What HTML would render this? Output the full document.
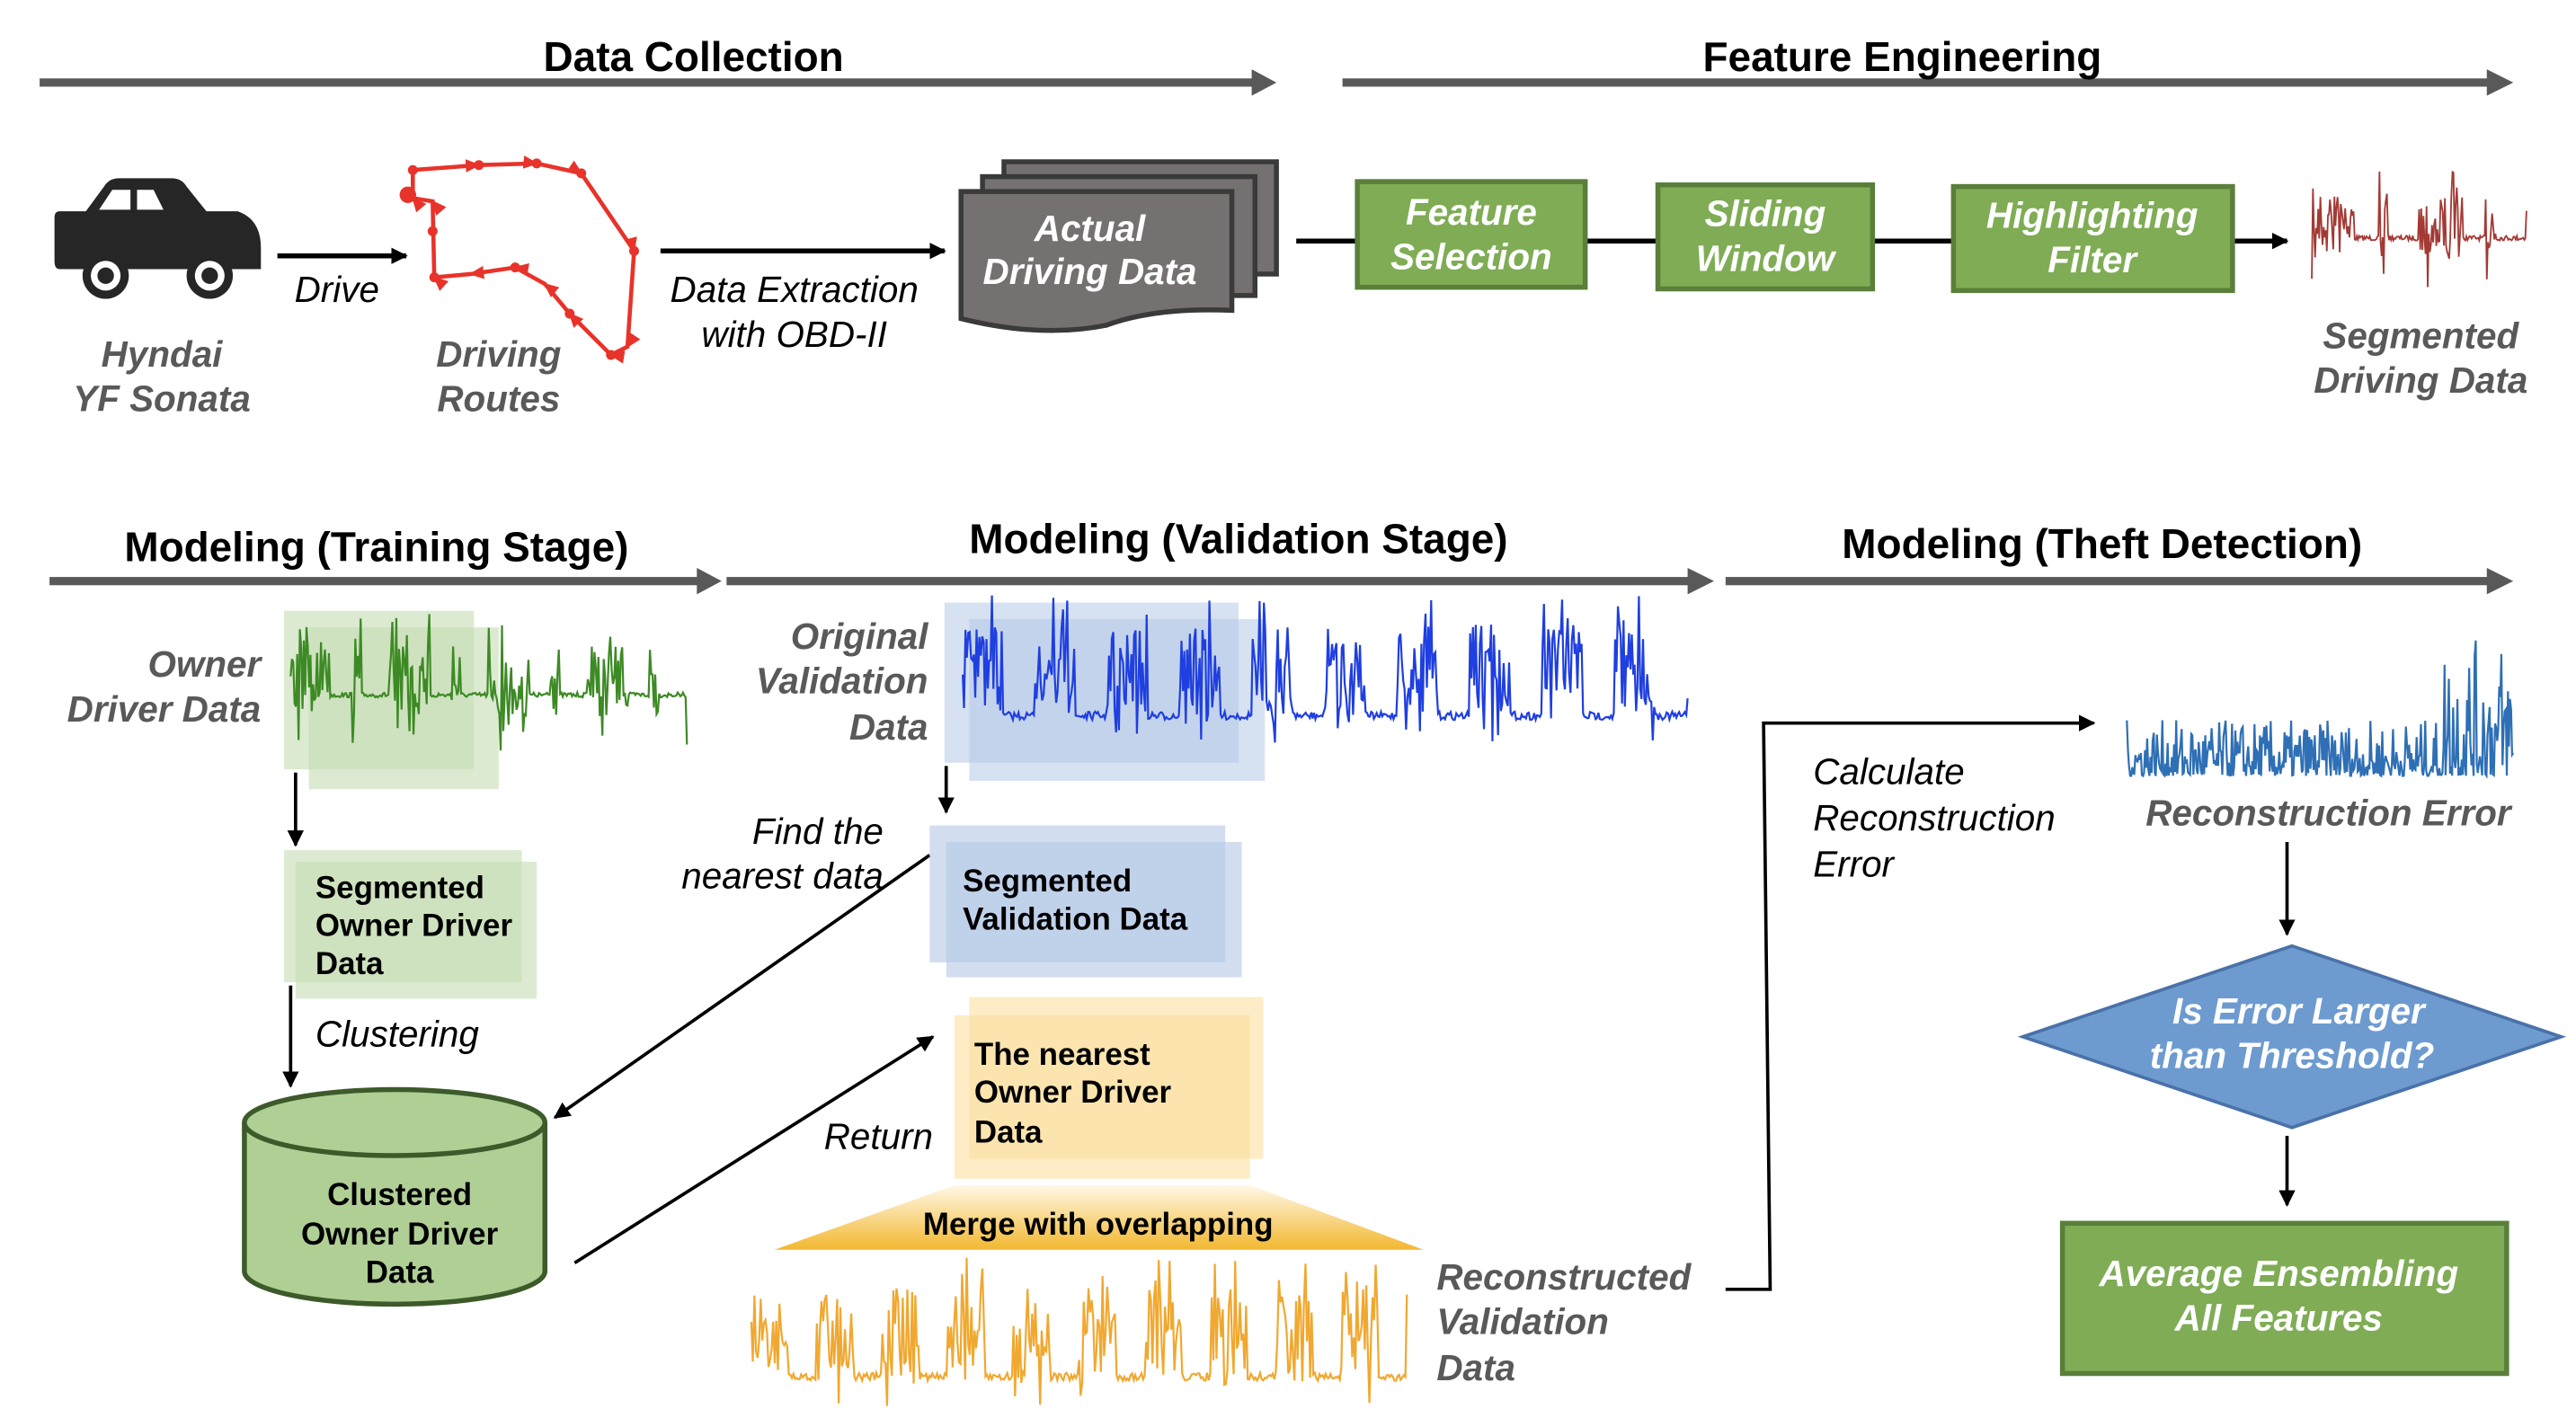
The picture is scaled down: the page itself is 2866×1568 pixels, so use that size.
<!DOCTYPE html>
<html><head><meta charset="utf-8"><style>
html,body{margin:0;padding:0;background:#fff;}
svg{display:block;font-family:"Liberation Sans",sans-serif;}
.t{font-weight:bold;font-size:25px;fill:#000;text-anchor:middle}
.gi{font-weight:bold;font-style:italic;font-size:22px;fill:#595959}
.bi{font-style:italic;font-size:22px;fill:#000}
.wb{font-weight:bold;font-style:italic;font-size:22px;fill:#fff;text-anchor:middle}
.bb{font-weight:bold;font-size:19px;fill:#000}
</style></head><body>
<svg id="s" width="2866" height="1568" viewBox="0 0 1560 853.5" preserveAspectRatio="none" xmlns="http://www.w3.org/2000/svg">
<defs>
<marker id="ah" markerWidth="10" markerHeight="10" refX="9" refY="5" orient="auto" markerUnits="userSpaceOnUse"><path d="M0,0 L10,5 L0,10 z" fill="#000"/></marker>
<marker id="rh" markerWidth="10" markerHeight="10" refX="8" refY="5" orient="auto" markerUnits="userSpaceOnUse"><path d="M0,1 L9,5 L0,9 z" fill="#e8332a"/></marker>
<linearGradient id="tg" x1="0" y1="0" x2="0" y2="1"><stop offset="0" stop-color="#fff8e6"/><stop offset="1" stop-color="#f2b830"/></linearGradient>
</defs>
<g fill="#595959">
<rect x="24" y="47.5" width="738" height="5"/><path d="M758,42 L773,50 L758,58z"/>
<rect x="813" y="47.5" width="697" height="5"/><path d="M1506,42 L1522,50 L1506,58z"/>
<rect x="30" y="349.5" width="396" height="5"/><path d="M422,344 L437,352 L422,360z"/>
<rect x="440" y="349.5" width="586" height="5"/><path d="M1022,344 L1038,352 L1022,360z"/>
<rect x="1045" y="349.5" width="465" height="5"/><path d="M1506,344 L1522,352 L1506,360z"/>
</g>
<text class="t" x="420" y="43">Data Collection</text>
<text class="t" x="1152" y="43">Feature Engineering</text>
<text class="t" x="228" y="340">Modeling (Training Stage)</text>
<text class="t" x="750" y="335">Modeling (Validation Stage)</text>
<text class="t" x="1273" y="338">Modeling (Theft Detection)</text>
<g fill="#262626">
<path d="M36,128 L52,128 L63,113 Q66,108 72,108 L104,108 Q110,108 113,113 L125,128 L144,128 Q158,133 158,150 L158,163 L36,163 Q33,163 33,158 L33,132 Q33,128 36,128z"/>
<circle cx="64" cy="167" r="14"/><circle cx="127" cy="167" r="14"/>
</g>
<path d="M60,127 L68,115 L79,115 L79,127z M83,115 L93,115 L99,127 L83,127z" fill="#fff"/>
<circle cx="64" cy="167" r="9" fill="#fff"/><circle cx="64" cy="167" r="5" fill="#262626"/>
<circle cx="127" cy="167" r="9" fill="#fff"/><circle cx="127" cy="167" r="5" fill="#262626"/>
<line x1="168" y1="155" x2="246" y2="155" stroke="#000" stroke-width="3" marker-end="url(#ah)"/>
<text class="bi" x="204" y="183" text-anchor="middle">Drive</text>
<text class="gi" x="98" y="222" text-anchor="middle">Hyndai</text>
<text class="gi" x="98" y="249" text-anchor="middle">YF Sonata</text>
<g stroke="#e8332a" stroke-width="2.5" fill="none">
<polyline points="250,103 290,100 325,99 352,105 384,152 380,210 370,215 345,190 330,172 312,162 285,166 263,168 262,122 250,120 250,103" marker-mid="url(#rh)"/>
</g>
<g fill="#e8332a"><circle cx="250" cy="103" r="3"/><circle cx="290" cy="100" r="3"/><circle cx="325" cy="99" r="3"/><circle cx="352" cy="105" r="3"/><circle cx="384" cy="152" r="3"/><circle cx="370" cy="215" r="3"/><circle cx="345" cy="190" r="3"/><circle cx="312" cy="162" r="3"/><circle cx="263" cy="168" r="3"/><circle cx="262" cy="140" r="3"/><circle cx="247" cy="118" r="5"/></g>
<text class="gi" x="302" y="222" text-anchor="middle">Driving</text>
<text class="gi" x="302" y="249" text-anchor="middle">Routes</text>
<line x1="400" y1="152" x2="572" y2="152" stroke="#000" stroke-width="3" marker-end="url(#ah)"/>
<text class="bi" x="481" y="183" text-anchor="middle">Data Extraction</text>
<text class="bi" x="481" y="210" text-anchor="middle">with OBD-II</text>
<g fill="#767171" stroke="#3a3a3a" stroke-width="3">
<rect x="608" y="98" width="165" height="68"/>
<rect x="595" y="107" width="165" height="72"/>
<path d="M582,116 L746,116 L746,188 Q700,186 670,197 Q630,205 582,193 z"/>
</g>
<text class="wb" x="660" y="146">Actual</text>
<text class="wb" x="660" y="172">Driving Data</text>
<g stroke="#000" stroke-width="3"><line x1="785" y1="146" x2="822" y2="146"/><line x1="960" y1="146" x2="1004" y2="146"/><line x1="1134" y1="146" x2="1183" y2="146"/></g>
<line x1="1352" y1="146" x2="1385" y2="146" stroke="#000" stroke-width="3" marker-end="url(#ah)"/>
<g fill="#7fac55" stroke="#5a7f3a" stroke-width="3">
<rect x="822" y="110" width="138" height="64"/><rect x="1004" y="112" width="130" height="63"/><rect x="1183" y="113" width="169" height="63"/>
</g>
<text class="wb" x="891" y="136">Feature</text><text class="wb" x="891" y="163">Selection</text>
<text class="wb" x="1069" y="137">Sliding</text><text class="wb" x="1069" y="164">Window</text>
<text class="wb" x="1267" y="138">Highlighting</text><text class="wb" x="1267" y="165">Filter</text>
<path id="sig1" fill="none" stroke="#a33a35" stroke-width="1"/>
<text class="gi" x="1466" y="211" text-anchor="middle">Segmented</text>
<text class="gi" x="1466" y="238" text-anchor="middle">Driving Data</text>
<text class="gi" x="158" y="410" text-anchor="end">Owner</text>
<text class="gi" x="158" y="437" text-anchor="end">Driver Data</text>
<rect x="172" y="370" width="115" height="96" fill="#c5dcb3" opacity="0.6"/>
<rect x="187" y="380" width="115" height="98" fill="#c5dcb3" opacity="0.6"/>
<path id="sig2" fill="none" stroke="#3d8a25" stroke-width="1.2"/>
<line x1="179" y1="468" x2="179" y2="512" stroke="#000" stroke-width="2" marker-end="url(#ah)"/>
<rect x="172" y="515" width="144" height="80" fill="#c5dcb3" opacity="0.6"/>
<rect x="179" y="522" width="146" height="83" fill="#c5dcb3" opacity="0.6"/>
<text class="bb" x="191" y="544">Segmented</text><text class="bb" x="191" y="567">Owner Driver</text><text class="bb" x="191" y="590">Data</text>
<line x1="176" y1="597" x2="176" y2="658" stroke="#000" stroke-width="2" marker-end="url(#ah)"/>
<text class="bi" x="191" y="634">Clustering</text>
<path d="M148,680 L148,770 A91,20 0 0 0 330,770 L330,680" fill="#b0cf95" stroke="#3d5a2a" stroke-width="3"/>
<ellipse cx="239" cy="680" rx="91" ry="20" fill="#b0cf95" stroke="#3d5a2a" stroke-width="3"/>
<text class="bb" x="242" y="730" text-anchor="middle">Clustered</text><text class="bb" x="242" y="754" text-anchor="middle">Owner Driver</text><text class="bb" x="242" y="777" text-anchor="middle">Data</text>
<line x1="563" y1="518" x2="336" y2="677" stroke="#000" stroke-width="2" marker-end="url(#ah)"/>
<line x1="348" y1="765" x2="565" y2="628" stroke="#000" stroke-width="2" marker-end="url(#ah)"/>
<text class="gi" x="562" y="393" text-anchor="end">Original</text>
<text class="gi" x="562" y="420" text-anchor="end">Validation</text>
<text class="gi" x="562" y="448" text-anchor="end">Data</text>
<rect x="572" y="365" width="178" height="97" fill="#b4c8e6" opacity="0.55"/>
<rect x="587" y="375" width="179" height="98" fill="#b4c8e6" opacity="0.55"/>
<path id="sig3" fill="none" stroke="#1f3fe0" stroke-width="1.2"/>
<line x1="573" y1="464" x2="573" y2="492" stroke="#000" stroke-width="2" marker-end="url(#ah)"/>
<text class="bi" x="535" y="511" text-anchor="end">Find the</text>
<text class="bi" x="535" y="538" text-anchor="end">nearest data</text>
<rect x="563" y="500" width="179" height="83" fill="#b4c8e6" opacity="0.6"/>
<rect x="573" y="510" width="179" height="82" fill="#b4c8e6" opacity="0.6"/>
<text class="bb" x="583" y="540">Segmented</text><text class="bb" x="583" y="563">Validation Data</text>
<rect x="587" y="604" width="178" height="98" fill="#fbe0a0" opacity="0.6"/>
<rect x="578" y="615" width="179" height="99" fill="#fbe0a0" opacity="0.6"/>
<text class="bb" x="590" y="645">The nearest</text><text class="bb" x="590" y="668">Owner Driver</text><text class="bb" x="590" y="692">Data</text>
<text class="bi" x="565" y="696" text-anchor="end">Return</text>
<path d="M578,718 L757,718 L862,757 L469,757z" fill="url(#tg)"/>
<text class="bb" x="665" y="748" text-anchor="middle">Merge with overlapping</text>
<path id="sig4" fill="none" stroke="#f0a830" stroke-width="1.2"/>
<text class="gi" x="870" y="781">Reconstructed</text>
<text class="gi" x="870" y="808">Validation</text>
<text class="gi" x="870" y="836">Data</text>
<polyline points="1045,781 1072,781 1068,438 1268,438" fill="none" stroke="#000" stroke-width="2" marker-end="url(#ah)"/>
<text class="bi" x="1098" y="475">Calculate</text>
<text class="bi" x="1098" y="503">Reconstruction</text>
<text class="bi" x="1098" y="531">Error</text>
<path id="sig5" fill="none" stroke="#2e6fb5" stroke-width="1.2"/>
<text class="gi" x="1410" y="500" text-anchor="middle">Reconstruction Error</text>
<line x1="1385" y1="510" x2="1385" y2="566" stroke="#000" stroke-width="2" marker-end="url(#ah)"/>
<path d="M1388,573 L1551,628 L1388,683 L1225,628z" fill="#6d9bd0" stroke="#4a72a8" stroke-width="2"/>
<text class="wb" x="1392" y="620">Is Error Larger</text>
<text class="wb" x="1388" y="647">than Threshold?</text>
<line x1="1385" y1="688" x2="1385" y2="730" stroke="#000" stroke-width="2" marker-end="url(#ah)"/>
<rect x="1249" y="741" width="269" height="91" fill="#7fac55" stroke="#5a7f3a" stroke-width="3"/>
<text class="wb" x="1380" y="779">Average Ensembling</text>
<text class="wb" x="1380" y="806">All Features</text>
</svg>
<script>
var seed=7;function r(){seed=(seed*16807)%2147483647;return seed/2147483647;}
function sig(id,x0,x1,y0,y1,n,mode,cycles){
 var d="",mid=(y0+y1)/2,base=y0+(y1-y0)*0.6;
 for(var i=0;i<=n;i++){var x=x0+(x1-x0)*i/n,y;var ph=(i/n*cycles)%1;
  if(mode=="burst"){var act=ph<0.4||(ph>0.62&&ph<0.72);
    if(act){y=r()<0.35?y0+r()*(y1-y0):mid+(r()-0.5)*(y1-y0)*0.5;}else{y=base+(r()-0.5)*3;}}
  else if(mode=="err"){var amp=(i/n>0.82?1.0:0.4)*(y1-y0);y=y1-Math.pow(r(),2.2)*amp-3;if(y<y0)y=y0;}
  else{var act2=ph<0.55;y=act2?(r()<0.3?y0+r()*(y1-y0):mid+(r()-0.5)*(y1-y0)*0.6):y1-(y1-y0)*0.2+(r()-0.5)*5;}
  d+=(i?"L":"M")+x.toFixed(1)+","+y.toFixed(1);}
 document.getElementById(id).setAttribute("d",d);}
sig("sig1",1400,1530,98,175,200,"burst",2);
sig("sig2",176,416,370,455,300,"burst",4);
sig("sig3",583,1022,360,452,520,"",10);
sig("sig4",455,852,762,852,420,"",10);
sig("sig5",1288,1522,388,473,360,"err",1);
</script>
</body></html>
